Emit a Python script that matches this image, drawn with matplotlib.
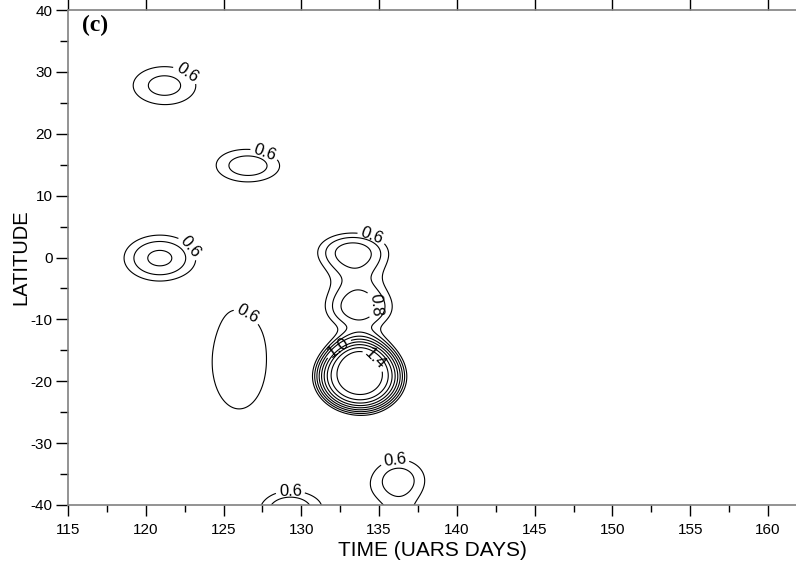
import numpy as np
import matplotlib
matplotlib.use('Agg')
import matplotlib.pyplot as plt
from matplotlib.ticker import MultipleLocator

# contour blobs: centre (time, lat), peak, widths, flatness
blob_time = [121.2, 126.6, 120.9, 126.0, 133.3, 133.7, 133.75, 136.3, 136.6, 129.2]
blob_lat = [27.8, 14.8, -0.1, -17.0, 1.2, -8.2, -19.3, -35.9, -45.0, -41.0]
blob_peak = [0.74, 0.76, 0.83, 0.66, 0.82, 0.875, 1.45, 0.75, 0.5, 0.8]
blob_sig_t = [3.1, 2.9, 2.85, 2.2, 2.6, 2.4, 2.2, 2.4, 1.6, 2.45]
blob_sig_lat = [4.7, 3.7, 4.6, 9.5, 3.4, 4.0, 4.45, 4.8, 3.0, 4.2]
blob_flat = [1, 1, 1, 2, 1, 1, 2, 1, 1, 1]

levels = [0.6, 0.7, 0.8, 0.9, 1.0, 1.1, 1.2, 1.3, 1.4]

# where the labels sit (time, lat), per labelled level
label_pos = {
    0.6: [(122.3, 28.4), (127.5, 15.8), (122.65, 1.2), (126.5, -9.3),
          (134.5, 3.2), (136.0, -32.6), (129.3, -38.7)],
    0.8: [(134.6, -7.7)],
    1.0: [(132.3, -14.3)],
    1.4: [(134.7, -16.5)],
}

time_grid = np.arange(113, 164, 0.1)
lat_grid = np.arange(-48, 42, 0.1)
T, L = np.meshgrid(time_grid, lat_grid)
field = np.zeros_like(T)
for t0, l0, p, st, sl, k in zip(blob_time, blob_lat, blob_peak,
                                blob_sig_t, blob_sig_lat, blob_flat):
    q = ((T - t0) / st) ** 2 + ((L - l0) / sl) ** 2
    field += p * np.exp(-(q / 2) ** k)

plt.rcParams['font.family'] = ['Liberation Sans', 'DejaVu Sans']
plt.rcParams['axes.unicode_minus'] = False

fig = plt.figure(figsize=(7.96, 5.65), dpi=100)
ax = fig.add_axes([68 / 796, 1 - 505 / 565, 1 - 68 / 796, 495 / 565])

for lev in levels:
    cs = ax.contour(T, L, field, levels=[lev], colors='black', linewidths=0.8)
    if lev in label_pos:
        ax.clabel(cs, manual=label_pos[lev], inline=True, fmt='%.1f',
                  fontsize=12, inline_spacing=2)

ax.set_xlim(115, 161.8)
ax.set_ylim(-40, 40)
ax.xaxis.set_major_locator(MultipleLocator(5))
ax.xaxis.set_minor_locator(MultipleLocator(2.5))
ax.yaxis.set_major_locator(MultipleLocator(10))
ax.yaxis.set_minor_locator(MultipleLocator(5))

ax.spines['right'].set_visible(False)
for s in ['left', 'bottom', 'top']:
    ax.spines[s].set_color('#808080')
    ax.spines[s].set_linewidth(1.2)

ax.tick_params(axis='x', which='major', direction='out', length=8, width=1,
               top=True, labelsize=11, pad=5)
ax.tick_params(axis='x', which='minor', direction='out', length=5, width=1,
               top=False)
ax.tick_params(axis='y', which='major', direction='out', length=9, width=1,
               labelsize=11, pad=2)
ax.tick_params(axis='y', which='minor', direction='out', length=6, width=1)

ax.set_xlabel('TIME (UARS DAYS)', fontsize=15, labelpad=3)
ax.set_ylabel('LATITUDE', fontsize=14.5, labelpad=0)

ax.text(0.019, 0.99, '(c)', transform=ax.transAxes, fontsize=17,
        fontweight='bold', family='Liberation Serif', va='top', ha='left')

fig.savefig('out.png', dpi=100)
